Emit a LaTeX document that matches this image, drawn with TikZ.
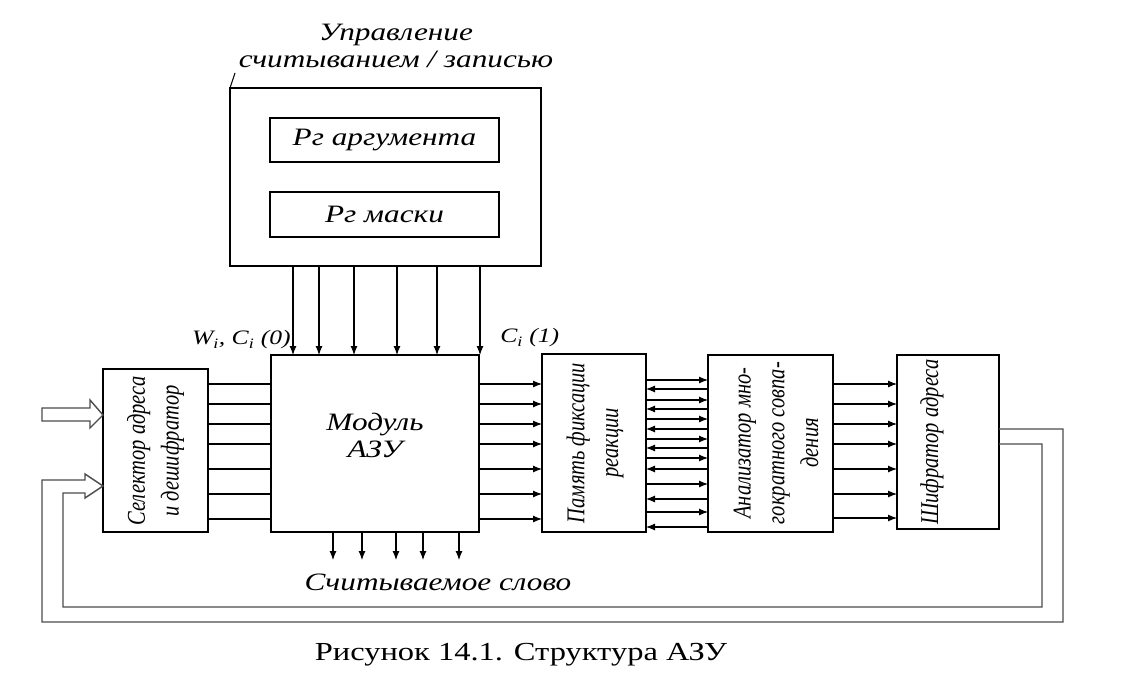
\documentclass[tikz,border=0pt]{standalone}
\usepackage{fontspec}
\setmainfont{Liberation Serif}
\usetikzlibrary{arrows.meta}
\begin{document}
\begin{tikzpicture}[x=1pt,y=-1pt,
  box/.style={draw, line width=1.2pt, inner sep=0pt, outer sep=0pt},
  it/.style={font=\itshape\fontsize{25}{27}\selectfont, xscale=1.25, inner sep=0pt},
  sm/.style={font=\itshape\fontsize{20.5}{22}\selectfont, xscale=1.25, inner sep=0pt},
  vert/.style={font=\itshape\fontsize{20.5}{27}\selectfont, rotate=90, yscale=1.25, align=center, inner sep=0pt},
  arr/.style={line width=1.1pt, -{Latex[length=9pt,width=7pt]}},
  ln/.style={line width=1.1pt},
  fb/.style={line width=1.4pt, draw=black!70},
]
\fill[white] (0,0) rectangle (1121,682);
\useasboundingbox (0,0) rectangle (1121,682);

% boxes
\node[box, minimum width=311pt, minimum height=178pt] (ctrl) at (385.5,177) {};
\node[box, minimum width=229pt, minimum height=44pt] (rarg) at (384.5,140) {};
\node[box, minimum width=229pt, minimum height=45pt] (rmask) at (384.5,214.5) {};
\node[box, minimum width=208pt, minimum height=177pt] (mod) at (375,443.5) {};
\node[box, minimum width=105pt, minimum height=163pt] (sel) at (155.5,450.5) {};
\node[box, minimum width=104pt, minimum height=178pt] (mem) at (594,443) {};
\node[box, minimum width=125pt, minimum height=177pt] (anl) at (770.5,443.5) {};
\node[box, minimum width=102pt, minimum height=174pt] (enc) at (948,442) {};

% labels
\node[it, align=center] (ctl) at (396,46) {Управление\\считыванием / записью};
\coordinate (tick) at (235,73);
\draw[ln] (ctrl.north west) -- (tick);
\node[it] (targ) at (rarg) {Рг аргумента};
\node[it] (tmask) at (rmask) {Рг маски};
\node[it, align=center] (modl) at (375,435) {Модуль\\АЗУ};
\node[vert] (sell) at (155.5,451) {Селектор адреса\\и дешифратор};
\node[vert] (meml) at (595,443) {Память фиксации\\реакции};
\node[vert] (anll) at (776,443) {Анализатор мно-\\гократного совпа-\\дения};
\node[vert] (encl) at (932,442) {Шифратор адреса};
\node[sm, anchor=east] (wl) at (291,340) {W\textsubscript{i}, C\textsubscript{i} (0)};
\node[sm, anchor=west] (cl) at (500,338) {C\textsubscript{i} (1)};
\node[it] (rd) at (438,582) {Считываемое слово};
\node[font=\fontsize{26}{28}\selectfont, xscale=1.25, inner sep=0pt] (cap) at (521,655) {Рисунок 14.1. Структура АЗУ};

% control -> module
\foreach \x in {293,319,354,397,437,480}
  \draw[arr] (ctrl.south -| \x,0) -- (mod.north -| \x,0);

% selector -> module, module -> memory
\foreach \y in {384,404,424,444,469,494,519} {
  \draw[ln] (sel.east |- 0,\y) -- (mod.west |- 0,\y);
  \draw[arr] (mod.east |- 0,\y) -- (mem.west |- 0,\y);
}
% memory <-> analyser
\foreach \y in {380,400,419,439,458,484,512}
  \draw[arr] (mem.east |- 0,\y) -- (anl.west |- 0,\y);
\foreach \y in {389,409,429,448,469,499,527}
  \draw[arr] (anl.west |- 0,\y) -- (mem.east |- 0,\y);
% analyser -> encoder
\foreach \y in {384,404,424,444,469,494,518}
  \draw[arr] (anl.east |- 0,\y) -- (enc.west |- 0,\y);

% read word outputs
\coordinate (outl) at (0,560);
\foreach \x in {333,362,396,423,459}
  \draw[arr] (mod.south -| \x,0) -- (outl -| \x,0);

% hollow input arrow
\draw[fb, fill=white] (42,408) -- (90,408) -- (90,400) -- (sel.west |- 0,415)
  -- (90,428) -- (90,421) -- (42,421) -- cycle;

% feedback loop from encoder to selector
\draw[fb] (enc.east |- 0,429) -- (1063,429) -- (1063,622) -- (42,622) -- (42,480)
  -- (85,480) -- (85,474) -- (sel.west |- 0,486) -- (85,498) -- (85,493)
  -- (63,493) -- (63,607) -- (1042,607) -- (1042,444) -- (enc.east |- 0,444);
\end{tikzpicture}
\end{document}
